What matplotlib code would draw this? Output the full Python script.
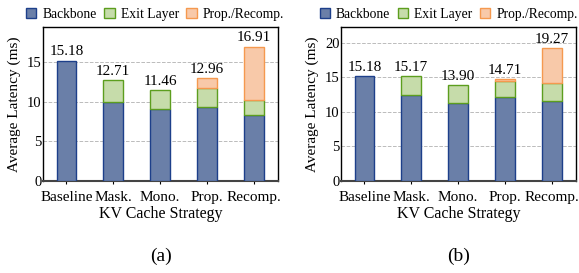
import numpy as np
import matplotlib.pyplot as plt
from matplotlib.patches import Patch

plt.rcParams['font.family'] = ['Liberation Serif', 'DejaVu Serif']

strategies = ["Baseline", "Mask.", "Mono.", "Prop.", "Recomp."]

# panel (a)
backbone_a = [15.18, 10.0, 9.1, 9.3, 8.3]
exit_a = [0.0, 2.71, 2.36, 2.4, 1.9]
prop_a = [0.0, 0.0, 0.0, 1.26, 6.71]
total_a = [15.18, 12.71, 11.46, 12.96, 16.91]

# panel (b)
backbone_b = [15.18, 12.5, 11.3, 12.1, 11.6]
exit_b = [0.0, 2.67, 2.6, 2.45, 2.55]
prop_b = [0.0, 0.0, 0.0, 0.16, 5.12]
total_b = [15.18, 15.17, 13.90, 14.71, 19.27]

c_back, e_back = '#6a7fa8', '#1d3f8a'
c_exit, e_exit = '#c6dcaa', '#5c9e1e'
c_prop, e_prop = '#f8c9a9', '#f5994f'

fig = plt.figure(figsize=(5.79, 2.73), dpi=100)
ax_a = fig.add_axes([0.0743, 0.337, 0.406, 0.564])
ax_b = fig.add_axes([0.589, 0.337, 0.406, 0.564])


def draw(ax, back, ext, prop, total, ymax, yticks, label, leg_x):
    x = np.arange(len(strategies))
    w = 0.42
    back = np.array(back)
    ext = np.array(ext)
    prop = np.array(prop)
    ax.bar(x, back, w, color=c_back, edgecolor=e_back, linewidth=1, zorder=3)
    m = ext > 0
    ax.bar(x[m], ext[m], w, bottom=back[m], color=c_exit, edgecolor=e_exit, linewidth=1, zorder=3)
    m = prop > 0
    ax.bar(x[m], prop[m], w, bottom=(back + ext)[m], color=c_prop, edgecolor=e_prop, linewidth=1, zorder=3)
    for xi, t in zip(x, total):
        ax.text(xi, t + 0.3, f'{t:.2f}', ha='center', va='bottom', fontsize=11)
    ax.set_xlim(-0.5, 4.52)
    ax.set_ylim(0, ymax)
    ax.set_yticks(yticks)
    ax.set_xticks(x)
    ax.set_xticklabels(strategies)
    ax.tick_params(axis='x', labelsize=11, length=2, pad=5)
    ax.tick_params(axis='y', labelsize=10.5, length=0, pad=1)
    ax.grid(axis='y', linestyle='--', color='#bbbbbb', linewidth=0.7, zorder=0)
    for s in ax.spines.values():
        s.set_linewidth(1.0)
    ax.spines['bottom'].set_color('#444444')
    ax.spines['bottom'].set_linewidth(1.5)
    ax.set_xlabel('KV Cache Strategy', fontsize=11.5, labelpad=2)
    ax.set_ylabel('Average Latency (ms)', fontsize=11, labelpad=4)
    handles = [Patch(facecolor=c_back, edgecolor=e_back, label='Backbone'),
               Patch(facecolor=c_exit, edgecolor=e_exit, label='Exit Layer'),
               Patch(facecolor=c_prop, edgecolor=e_prop, label='Prop./Recomp.')]
    ax.legend(handles=handles, loc='lower center', bbox_to_anchor=(leg_x, 1.04), ncol=3,
              frameon=False, fontsize=9.8, handlelength=0.75, handleheight=0.75,
              handletextpad=0.45, columnspacing=0.55, borderaxespad=0.0, borderpad=0.0)
    ax.text(0.5, -0.49, label, transform=ax.transAxes, ha='center', va='center', fontsize=14)


draw(ax_a, backbone_a, exit_a, prop_a, total_a, 19.4, [0, 5, 10, 15], '(a)', 0.477)
draw(ax_b, backbone_b, exit_b, prop_b, total_b, 22.3, [0, 5, 10, 15, 20], '(b)', 0.458)

plt.savefig('out.png', dpi=100)
